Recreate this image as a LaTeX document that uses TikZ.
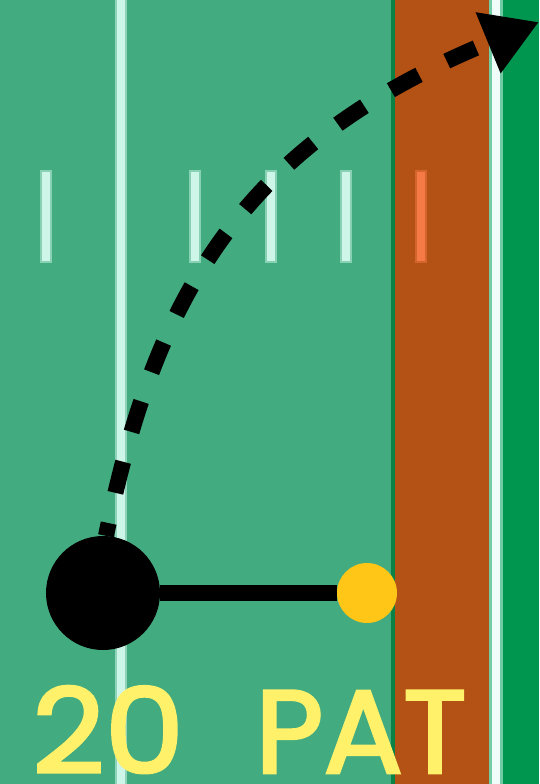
\documentclass[tikz,border=0pt]{standalone}
\usepackage{fontspec}
\setmainfont{Poppins}
\newfontfamily\placarfont{Poppins}[FakeBold=2.5]
\usetikzlibrary{arrows.meta}

\definecolor{campo}{RGB}{67,171,128}
\definecolor{linha}{RGB}{205,246,233}
\definecolor{endzone}{RGB}{179,82,20}
\definecolor{divisa}{RGB}{10,130,70}
\definecolor{fundo}{RGB}{0,150,80}
\definecolor{hashlaranja}{RGB}{245,122,70}
\definecolor{amarelo}{RGB}{255,197,23}
\definecolor{placar}{RGB}{255,241,106}

\begin{document}
\begin{tikzpicture}[x=1pt, y=-1pt, every node/.style={inner sep=0pt},
        jogador/.style={circle, fill=black, minimum size=114pt},
        bola/.style={circle, fill=amarelo, minimum size=60pt},
        rota/.style={line width=16pt, dash pattern=on 32pt off 31pt, dash phase=19pt,
            -{Triangle[length=55pt, width=62pt]}},
        texto/.style={text=placar, anchor=base west, font=\placarfont\fontsize{118}{118}\selectfont}]
        \useasboundingbox (0,0) rectangle (539,784);

        % Campo e end zone
        \fill[campo] (0,0) rectangle (395,784);
        \fill[endzone] (395,0) rectangle (490,784);
        \fill[fundo] (502,0) rectangle (539,784);
        \fill[divisa] (391,0) rectangle (395,784);

        % Linhas brancas
        \fill[linha!55!campo] (115,0) rectangle (127,784);
        \fill[linha] (117,0) rectangle (125,784);
        \fill[linha!55!fundo] (489,0) rectangle (503,784);
        \fill[white!70!linha] (492,0) rectangle (500,784);

        % Hash marks
        \foreach \x in {46,195,271,346} {
            \fill[linha!50!campo] (\x-6,170) rectangle (\x+6,263);
            \fill[linha] (\x-4,172) rectangle (\x+4,261);
        }
        \fill[hashlaranja!50!endzone] (415,170) rectangle (427,263);
        \fill[hashlaranja] (417,172) rectangle (425,261);

        % Texto
        \node[texto, xscale=1.07] (jarda) at (32,773) {20};
        \node[texto] (pat) at (255,773) {PAT};

        % Jogador e bola
        \node[jogador] (qb) at (103,593) {};
        \node[bola] (snap) at (367,593) {};
        \draw[line width=16pt] (qb) -- (snap);

        % Rota
        \coordinate (alvo) at (539,22);
        \draw[rota] ([xshift=3pt]qb.north) .. controls (156,290) and (246,142) .. (alvo);
\end{tikzpicture}
\end{document}
